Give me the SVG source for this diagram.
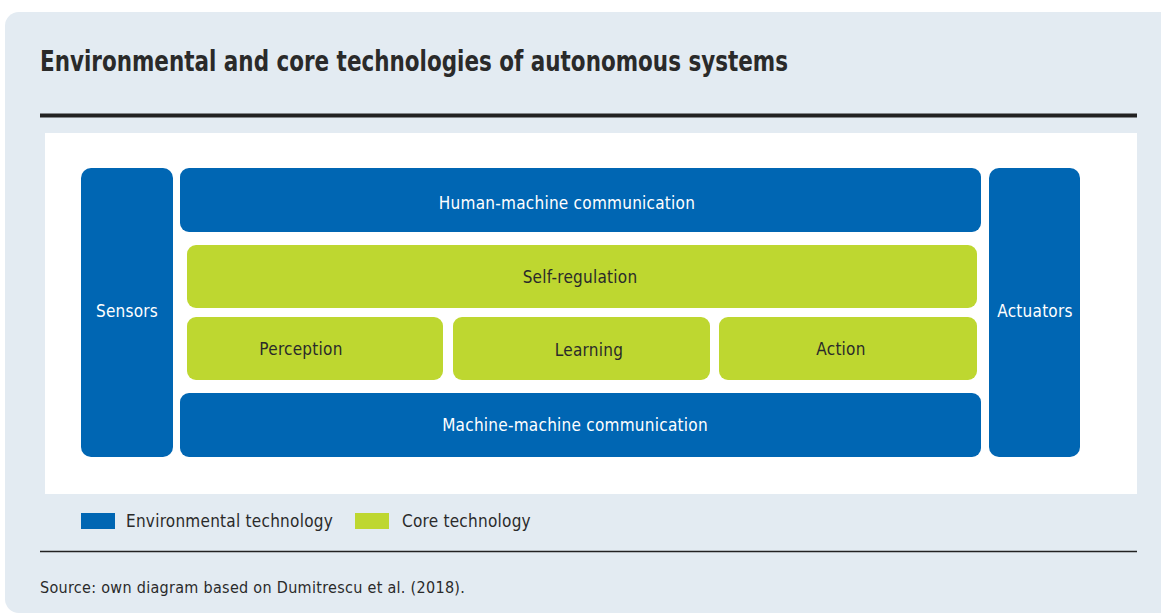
<svg xmlns="http://www.w3.org/2000/svg" width="1161" height="615" viewBox="0 0 1161 615">
<style>
.env{fill:#0066b3}
.core{fill:#bed730}
.t{font-family:"DejaVu Sans Condensed","DejaVu Sans",sans-serif;font-size:17px;letter-spacing:0.25px}
.w{fill:#ffffff}
.d{fill:#2a2a2a}
</style>
<rect x="5" y="12" width="1170" height="601" rx="14" fill="#e3ebf2"/>
<text x="40" y="71" class="t d" style="font-size:28px;font-weight:bold;letter-spacing:0" textLength="748" lengthAdjust="spacingAndGlyphs">Environmental and core technologies of autonomous systems</text>
<line x1="40" y1="115.5" x2="1137" y2="115.5" stroke="#222" stroke-width="4"/>
<rect x="45" y="133" width="1092" height="361" fill="#ffffff"/>
<g id="sensors"><rect class="env" x="81" y="168" width="92" height="289" rx="10"/><text class="t w" x="127" y="317" text-anchor="middle">Sensors</text></g>
<g id="human-machine"><rect class="env" x="180" y="168" width="801" height="64" rx="9"/><text class="t w" x="567" y="209" text-anchor="middle">Human-machine communication</text></g>
<g id="self-regulation"><rect class="core" x="187" y="245" width="790" height="63" rx="9"/><text class="t d" x="580" y="283" text-anchor="middle">Self-regulation</text></g>
<g id="perception"><rect class="core" x="187" y="317" width="256" height="63" rx="9"/><text class="t d" x="301" y="355" text-anchor="middle">Perception</text></g>
<g id="learning"><rect class="core" x="453" y="317" width="257" height="63" rx="9"/><text class="t d" x="589" y="356" text-anchor="middle">Learning</text></g>
<g id="action"><rect class="core" x="719" y="317" width="258" height="63" rx="9"/><text class="t d" x="841" y="355" text-anchor="middle">Action</text></g>
<g id="machine-machine"><rect class="env" x="180" y="393" width="801" height="64" rx="9"/><text class="t w" x="575" y="431" text-anchor="middle">Machine-machine communication</text></g>
<g id="actuators"><rect class="env" x="989" y="168" width="91" height="289" rx="10"/><text class="t w" x="1035" y="317" text-anchor="middle">Actuators</text></g>
<g id="connectors"></g>
<g id="legend">
<rect class="env" x="81" y="513" width="34" height="16"/>
<text class="t d" x="126" y="527">Environmental technology</text>
<rect class="core" x="355" y="513" width="34" height="16"/>
<text class="t d" x="402" y="527">Core technology</text>
</g>
<line x1="40" y1="551.5" x2="1137" y2="551.5" stroke="#222" stroke-width="1.5"/>
<text class="t d" x="40" y="593" style="font-size:16px;letter-spacing:0.3px">Source: own diagram based on Dumitrescu et al. (2018).</text>
</svg>
